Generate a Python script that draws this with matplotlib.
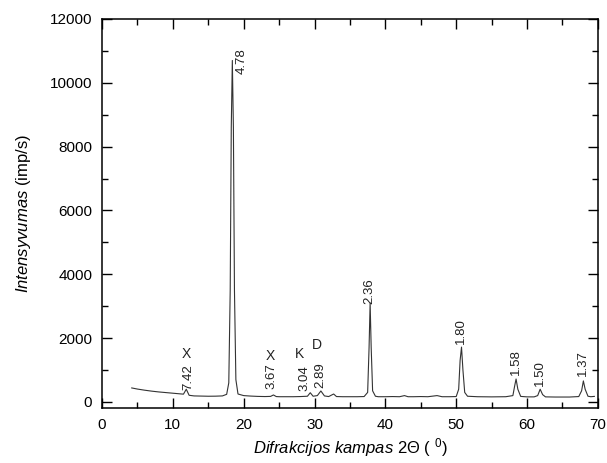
import matplotlib
matplotlib.use("Agg")
import matplotlib.pyplot as plt

plt.rcParams['font.family'] = ['Liberation Sans', 'DejaVu Sans']
plt.rcParams['mathtext.fontset'] = 'custom'
plt.rcParams['mathtext.rm'] = 'Liberation Sans'
plt.rcParams['mathtext.it'] = 'Liberation Sans:italic'

# diffraction trace (2theta, intensity)
two_theta = [4.2, 5, 6, 7, 8, 9, 10, 11, 11.5, 11.9, 12.3, 13, 14, 15, 16, 17,
             17.6, 17.9, 18.1, 18.25, 18.4, 18.55, 18.7, 18.9, 19.2, 20, 21, 22, 23,
             23.8, 24.2, 24.6, 25, 26, 27, 28, 29, 29.4, 29.8, 30.4, 30.9, 31.4,
             32, 32.7, 33.1, 34, 35, 36, 37, 37.5, 37.7, 37.85, 38.0, 38.2, 38.6,
             39, 40, 41, 42, 42.7, 43.2, 44, 45, 46, 47.3, 48, 49, 50, 50.35,
             50.55, 50.75, 50.95, 51.2, 51.6, 53, 55, 57, 58, 58.25, 58.45, 58.7,
             59.1, 60, 61, 61.5, 61.85, 62.2, 62.6, 64, 66, 67.3, 67.7, 67.95, 68.2,
             68.6, 69.0, 69.5]
intensity = [440, 405, 370, 340, 315, 295, 275, 255, 245, 400, 210, 190, 185, 180, 182, 190,
             240, 600, 3500, 8600, 10700, 8600, 3500, 700, 250, 200, 185, 175, 170,
             175, 220, 170, 165, 165, 165, 170, 180, 290, 180, 200, 345, 190,
             170, 250, 170, 165, 165, 165, 170, 300, 1700, 3100, 1700, 350, 180,
             165, 165, 170, 165, 200, 165, 165, 170, 165, 200, 165, 165, 170, 400,
             1300, 1720, 1000, 300, 180, 165, 160, 165, 200, 500, 720, 400,
             175, 160, 160, 200, 400, 230, 160, 155, 155, 170, 350, 660, 400,
             180, 165, 175]

# peak labels (d-spacings) and phase marks
peak_labels = ["7.42", "4.78", "3.67", "3.04", "2.89", "2.36", "1.80", "1.58", "1.50", "1.37"]
label_x = [12.2, 19.7, 23.9, 28.6, 30.8, 37.7, 50.7, 58.4, 61.8, 67.9]
label_y = [780, 10680, 800, 740, 850, 3480, 2220, 1250, 900, 1220]

phase_marks = ["X", "X", "K", "D"]
phase_x = [11.9, 23.8, 27.9, 30.4]
phase_y = [1500, 1450, 1500, 1790]

fig = plt.figure(figsize=(6.07, 4.63), dpi=100)
ax = fig.add_axes([0.168, 0.118, 0.817, 0.841])

ax.plot(two_theta, intensity, color='#333333', lw=0.8)

for txt, x, y in zip(peak_labels, label_x, label_y):
    ax.text(x, y, txt, rotation=90, ha='center', va='center', fontsize=9.5, color='#222222')
for txt, x, y in zip(phase_marks, phase_x, phase_y):
    ax.text(x, y, txt, ha='center', va='center', fontsize=10, color='#222222')

ax.set_xlim(0, 70)
ax.set_ylim(-200, 12000)
ax.set_xticks(range(0, 71, 10))
ax.set_xticks(range(5, 70, 10), minor=True)
ax.set_yticks(range(0, 12001, 2000))
ax.set_yticks(range(1000, 12000, 2000), minor=True)
ax.tick_params(which='both', direction='in', top=True, right=True, labelsize=11, width=1)
ax.tick_params(which='major', length=7, pad=7)
ax.tick_params(which='minor', length=4)
for s in ax.spines.values():
    s.set_linewidth(1.1)

ax.set_xlabel(r"$\it{Difrakcijos\ kampas}$ 2$\Theta$ ( $^{0}$)", fontsize=12, labelpad=3)
ax.set_ylabel(r"$\it{Intensyvumas}$ (imp/s)", fontsize=12, labelpad=12)

fig.savefig("out.png", dpi=100)
